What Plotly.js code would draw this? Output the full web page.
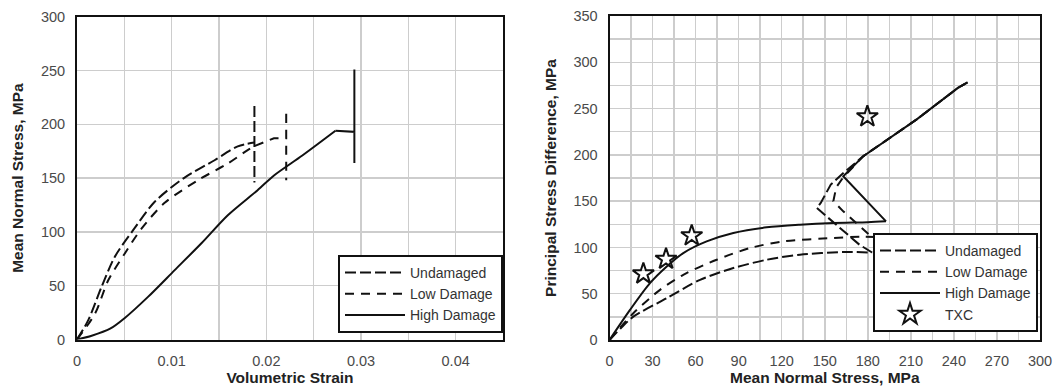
<!DOCTYPE html>
<html>
<head>
<meta charset="utf-8">
<script src="https://cdn.plot.ly/plotly-3.0.1.min.js"></script>
<style>html,body{margin:0;padding:0;background:#fff;}#chart{width:1056px;height:387px;}</style>
</head>
<body>
<div id="chart"></div>
<script>
// ---- Left panel: Mean normal stress vs volumetric strain ----
const strainUndamaged = [0, 0.00119, 0.0026, 0.004, 0.00593, 0.00821, 0.01137, 0.01453, 0.01698, 0.01874];
const stressUndamaged = [0, 18, 49, 77, 101.6, 128, 150.5, 166.6, 179.5, 183];
const strainUndamagedDrop = [0.01874, 0.01874];
const stressUndamagedDrop = [217, 146];

const strainLowDamage = [0, 0.0019, 0.0033, 0.00505, 0.00681, 0.00926, 0.01277, 0.01593, 0.01803, 0.0188];
const stressLowDamage = [0, 24, 55, 80, 103, 127, 148, 163.6, 176, 180];
const strainLowDamageStep = [0.0188, 0.0208, 0.0221, 0.0221, 0.0221];
const stressLowDamageStep = [180, 187, 187, 213, 148];

const strainHighDamage = [0, 0.00155, 0.0035, 0.00505, 0.0075, 0.01032, 0.01312, 0.01593, 0.01908, 0.02084, 0.0238, 0.0273];
const stressHighDamage = [0, 3.5, 10, 20, 39.6, 64.5, 89.2, 115.5, 138.8, 152.7, 171, 194];
const strainHighDamageStep = [0.0273, 0.0289, 0.0293, 0.0293, 0.0293];
const stressHighDamageStep = [194, 193, 193, 251, 164];

// ---- Right panel: Principal stress difference vs mean normal stress ----
const meanUndamaged = [0, 8, 16.6, 39.9, 63.1, 86.3, 109.5, 132.7, 162.9, 183];
const diffUndamaged = [0, 13, 25.2, 45.2, 65, 77.7, 86.7, 92.1, 95, 94.5];
const meanUndamagedReturn = [183, 177, 174.2, 144.4, 147.2, 154.2, 161.8, 176.9, 214.1, 243.1, 249.5];
const diffUndamagedReturn = [94.5, 100, 102.9, 142.7, 148.1, 167.9, 178.8, 198.6, 238.3, 272.7, 278.2];

const meanLowDamage = [0, 16.6, 35.2, 51.4, 74.7, 97.9, 121.1, 156, 175, 188];
const diffLowDamage = [0, 28.9, 54.2, 70.4, 86.7, 99.3, 106.5, 110.2, 111.5, 111];
const meanLowDamageReturn = [188, 186.2, 162.9, 156, 158, 163, 176.9, 214.1, 243.1, 249.5];
const diffLowDamageReturn = [111, 106.5, 139, 150, 165, 176, 198.6, 238.3, 272.7, 278.2];

const meanHighDamage = [0, 14.3, 28.2, 39.9, 51.4, 67.7, 86.3, 109.5, 132.7, 156, 180, 192.7];
const diffHighDamage = [0, 32.5, 61.4, 79.4, 93.9, 106.5, 115.6, 121.7, 124.6, 126.4, 127.3, 128.2];
const meanHighDamageReturn = [192.7, 162.9, 176.9, 214.1, 243.1, 249.5];
const diffHighDamageReturn = [128.2, 176.9, 198.6, 238.3, 272.7, 278.2];

const meanTXC = [23.6, 39.4, 57.3, 179.7];
const diffTXC = [71.5, 87.4, 112.7, 241.3];

const seriesNames = ['Undamaged', 'Low Damage', 'High Damage', 'TXC'];

const black = '#111';
const dashUnd = '11px,4px';
const dashLow = '9px,7px';
const lnU = {color: black, width: 2, dash: dashUnd};
const lnL = {color: black, width: 2, dash: dashLow};
const lnH = {color: black, width: 2};
const sp = (l) => Object.assign({shape: 'spline', smoothing: 0.8}, l);

function tr(x, y, name, line, xa, ya, lg, group, show) {
  return {x: x, y: y, name: name, mode: 'lines', line: line, xaxis: xa, yaxis: ya,
          legend: lg, legendgroup: group, showlegend: show};
}

const traces = [
  tr(strainUndamaged, stressUndamaged, seriesNames[0], sp(lnU), 'x', 'y', 'legend', 'u1', true),
  tr(strainUndamagedDrop, stressUndamagedDrop, seriesNames[0], lnU, 'x', 'y', 'legend', 'u1', false),
  tr(strainLowDamage, stressLowDamage, seriesNames[1], sp(lnL), 'x', 'y', 'legend', 'l1', true),
  tr(strainLowDamageStep, stressLowDamageStep, seriesNames[1], lnL, 'x', 'y', 'legend', 'l1', false),
  tr(strainHighDamage, stressHighDamage, seriesNames[2], sp(lnH), 'x', 'y', 'legend', 'h1', true),
  tr(strainHighDamageStep, stressHighDamageStep, seriesNames[2], lnH, 'x', 'y', 'legend', 'h1', false),

  tr(meanUndamaged, diffUndamaged, seriesNames[0], sp(lnU), 'x2', 'y2', 'legend2', 'u2', true),
  tr(meanUndamagedReturn, diffUndamagedReturn, seriesNames[0], lnU, 'x2', 'y2', 'legend2', 'u2', false),
  tr(meanLowDamage, diffLowDamage, seriesNames[1], sp(lnL), 'x2', 'y2', 'legend2', 'l2', true),
  tr(meanLowDamageReturn, diffLowDamageReturn, seriesNames[1], lnL, 'x2', 'y2', 'legend2', 'l2', false),
  tr(meanHighDamage, diffHighDamage, seriesNames[2], sp(lnH), 'x2', 'y2', 'legend2', 'h2', true),
  tr(meanHighDamageReturn, diffHighDamageReturn, seriesNames[2], lnH, 'x2', 'y2', 'legend2', 'h2', false),
  {x: meanTXC, y: diffTXC, name: seriesNames[3], mode: 'markers',
   marker: {symbol: 'star-open', size: 16, color: black, line: {color: black, width: 2}},
   xaxis: 'x2', yaxis: 'y2', legend: 'legend2', legendgroup: 't2'}
];

const W = 1056, H = 387;
const gridC = '#cdcdcd';
const FF = 'Liberation Sans, Arial, sans-serif';
const tickF = {family: FF, size: 14.5, color: '#4a4a4a'};
const titleF = {family: FF, size: 15.5, color: '#222'};

function axisBase(extra) {
  return Object.assign({
    showgrid: true, gridcolor: gridC, gridwidth: 1.5,
    showline: true, mirror: true, linecolor: black, linewidth: 2,
    zeroline: false, ticks: '', tickfont: tickF, fixedrange: true
  }, extra);
}

const layout = {
  width: W, height: H,
  margin: {l: 0, r: 0, t: 0, b: 0},
  paper_bgcolor: '#fff', plot_bgcolor: 'rgba(0,0,0,0)',
  font: {family: FF, color: '#333'},
  showlegend: true,
  xaxis: axisBase({
    domain: [77 / W, 503 / W], range: [0, 0.045], tick0: 0, dtick: 0.01, anchor: 'y',
    minor: {dtick: 0.005, showgrid: true, gridcolor: gridC, gridwidth: 1.5},
    ticklabelstandoff: 7,
    title: {text: '<b>Volumetric Strain</b>', font: titleF, standoff: 3}
  }),
  yaxis: axisBase({
    domain: [(H - 339.5) / H, (H - 16.7) / H], range: [0, 300], tick0: 0, dtick: 50, anchor: 'x',
    ticklabelstandoff: 7,
    title: {text: '<b>Mean Normal Stress, MPa</b>', font: titleF, standoff: 13}
  }),
  xaxis2: axisBase({
    domain: [609.5 / W, 1040 / W], range: [0, 300], tick0: 0, dtick: 30, anchor: 'y2',
    minor: {dtick: 15, showgrid: true, gridcolor: gridC, gridwidth: 1.5},
    ticklabelstandoff: 7,
    title: {text: '<b>Mean Normal Stress, MPa</b>', font: titleF, standoff: 3}
  }),
  yaxis2: axisBase({
    domain: [(H - 340) / H, (H - 16) / H], range: [0, 350], tick0: 0, dtick: 50, anchor: 'x2',
    minor: {dtick: 25, showgrid: true, gridcolor: gridC, gridwidth: 1.5},
    ticklabelstandoff: 7,
    title: {text: '<b>Principal Stress Difference, MPa</b>', font: titleF, standoff: 13}
  }),
  legend: {
    x: 503 / W, xanchor: 'right', y: (H - 333) / H, yanchor: 'bottom',
    bgcolor: '#fff', bordercolor: black, borderwidth: 2,
    font: {family: FF, size: 14, color: '#333'},
    tracegroupgap: 0, itemwidth: 60
  },
  legend2: {
    x: 1038 / W, xanchor: 'right', y: (H - 332) / H, yanchor: 'bottom',
    bgcolor: '#fff', bordercolor: black, borderwidth: 2,
    font: {family: FF, size: 14, color: '#333'},
    tracegroupgap: 0, itemwidth: 60
  }
};

Plotly.newPlot('chart', traces, layout, {staticPlot: true, displayModeBar: false});
</script>
</body>
</html>
